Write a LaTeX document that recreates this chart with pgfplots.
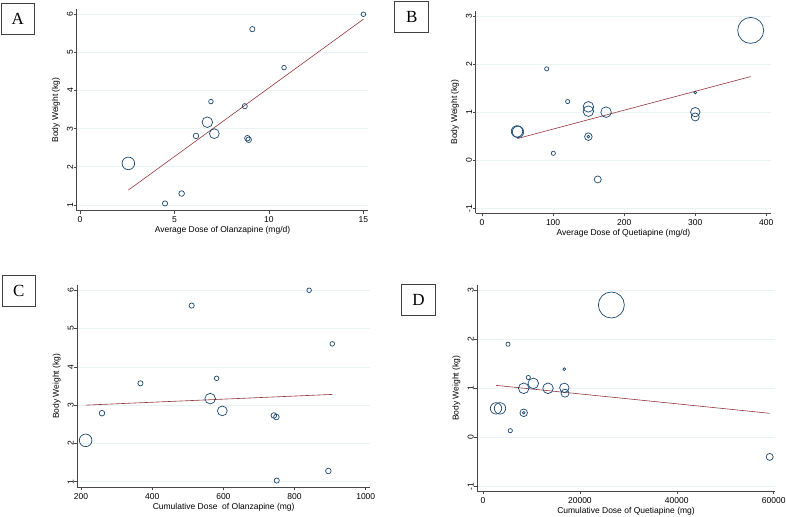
\documentclass[border=0pt]{standalone}
\usepackage{pgfplots}
\pgfplotsset{compat=1.18}
\usepackage{fontspec}
\setmainfont{Liberation Sans}
\newfontfamily\serifL{Liberation Serif}
\definecolor{snavy}{RGB}{26,71,111}
\definecolor{smaroon}{RGB}{144,53,59}
\definecolor{sgrid}{RGB}{234,242,243}
\definecolor{saxis}{RGB}{70,70,70}
\pgfplotsset{
  panel/.style={
    scale only axis,
    clip=false,
    axis lines*=left,
    axis line style={-, draw=saxis, line width=0.6pt},
    tick align=outside,
    major tick length=3pt,
    tick style={draw=saxis, line width=0.6pt},
    ymajorgrids,
    grid style={draw=sgrid, line width=0.7pt},
    /pgf/number format/assume math mode=true,
    /pgf/number format/1000 sep={},
    scaled x ticks=false,
    ticklabel style={font=\fontsize{8.5}{10}\selectfont, text=black, inner sep=0pt},
    yticklabel style={rotate=90, anchor=south},
    xticklabel style={anchor=north},
    xticklabel shift=3pt,
    yticklabel shift=0.5pt,
    label style={font=\fontsize{8.5}{10}\selectfont, inner sep=0pt},
    xlabel style={at={(axis description cs:0.5,0)}, anchor=north, yshift=-15.5pt},
    ylabel style={at={(axis description cs:-0.0566,0.5)}, anchor=south},
  },
  bub/.style={only marks, mark=o, color=snavy, mark size=#1,
    mark options={line width=0.7pt, draw=snavy, fill=none}},
  fitl/.style={smaroon, line width=0.6pt, no marks},
}
\tikzset{letterbox/.style={draw=black!75, line width=0.8pt, minimum width=33.8pt, minimum height=30.7pt, inner sep=0pt, font=\serifL\fontsize{17}{17}\selectfont}}
\begin{document}
\begin{tikzpicture}
\path[use as bounding box] (0,0) rectangle (786pt,516pt);
% Panel A
\begin{axis}[panel, at={(76.7pt,305.3pt)}, anchor=south west,
  width=291.6pt, height=201.4pt,
  xmin=-0.175, xmax=15.26, ymin=0.85, ymax=6.13,
  xtick={0,5,10,15}, ytick={1,2,3,4,5,6},
  xlabel={Average Dose of Olanzapine (mg/d)}, ylabel={Body Weight (kg)}]
\addplot[bub=2.3] coordinates {(15,6.00) (10.8,4.60) (6.93,3.71)};
\addplot[bub=2.6] coordinates {(9.12,5.61) (8.72,3.59) (4.50,1.04)};
\addplot[bub=2.8] coordinates {(6.14,2.81) (8.86,2.75) (8.93,2.71) (5.38,1.30)};
\addplot[bub=5.3] coordinates {(6.74,3.17)};
\addplot[bub=4.9] coordinates {(7.11,2.87)};
\addplot[bub=6.3] coordinates {(2.56,2.09)};
\addplot[fitl] coordinates {(2.56,1.39) (15,5.87)};
\end{axis}
% Panel B
\begin{axis}[panel, at={(475.7pt,302.7pt)}, anchor=south west,
  width=295.6pt, height=202.6pt,
  xmin=-8.9, xmax=407, ymin=-1.104, ymax=3.11,
  xtick={0,100,200,300,400}, ytick={-1,0,1,2,3},
  xlabel={Average Dose of Quetiapine (mg/d)}, ylabel={Body Weight (kg)}]
\addplot[bub=13] coordinates {(378,2.70)};
\addplot[bub=2.1] coordinates {(91,1.90) (120.5,1.22) (100.3,0.144)};
\addplot[bub=5.3] coordinates {(149.6,1.11) (149.6,1.02) (174.5,1.00)};
\addplot[bub=1.4] coordinates {(300,1.41) (149.6,0.49)};
\addplot[bub=4.7] coordinates {(300,1.00)};
\addplot[bub=4.0] coordinates {(300,0.90)};
\addplot[bub=5.7] coordinates {(49.2,0.60) (50.6,0.59)};
\addplot[bub=3.8] coordinates {(149.6,0.49)};
\addplot[bub=3.5] coordinates {(162.8,-0.40)};
\addplot[fitl] coordinates {(49.7,0.45) (378,1.74)};
\end{axis}
% Panel C
\begin{axis}[panel, at={(77.3pt,28.7pt)}, anchor=south west,
  width=292.7pt, height=202pt,
  xmin=189.6, xmax=1012, ymin=0.854, ymax=6.13,
  xtick={200,400,600,800,1000}, ytick={1,2,3,4,5,6},
  xlabel={Cumulative Dose\ \ of Olanzapine (mg)}, ylabel={Body Weight (kg)}]
\addplot[bub=2.3] coordinates {(841,6.00) (906,4.60) (581,3.70)};
\addplot[bub=2.6] coordinates {(511,5.60) (367,3.57) (750,1.03)};
\addplot[bub=2.8] coordinates {(259,2.79) (742,2.73) (749,2.69) (895,1.28)};
\addplot[bub=5.3] coordinates {(563,3.17)};
\addplot[bub=4.9] coordinates {(597,2.85)};
\addplot[bub=6.3] coordinates {(213,2.08)};
\addplot[fitl] coordinates {(213,3.00) (906,3.28)};
\end{axis}
% Panel D
\begin{axis}[panel, at={(477.3pt,24.7pt)}, anchor=south west,
  width=297.4pt, height=206pt,
  xmin=-1176, xmax=60206, ymin=-1.102, ymax=3.102,
  xtick={0,20000,40000,60000}, ytick={-1,0,1,2,3},
  xlabel={Cumulative Dose of Quetiapine (mg)}, ylabel={Body Weight (kg)}]
\addplot[bub=13] coordinates {(26490,2.70)};
\addplot[bub=2.1] coordinates {(5160,1.90) (9350,1.22) (5635,0.135)};
\addplot[bub=5.3] coordinates {(10380,1.10) (8400,1.00) (13416,1.00)};
\addplot[bub=1.4] coordinates {(16780,1.39) (8400,0.50)};
\addplot[bub=4.7] coordinates {(16780,1.01)};
\addplot[bub=4.0] coordinates {(16925,0.90)};
\addplot[bub=5.7] coordinates {(2683,0.59) (3509,0.59)};
\addplot[bub=3.8] coordinates {(8400,0.50)};
\addplot[bub=3.5] coordinates {(59170,-0.40)};
\addplot[fitl] coordinates {(2683,1.06) (59170,0.49)};
\end{axis}
\node[letterbox] at (17.85pt,497.35pt) {A};
\node[letterbox] at (411.7pt,499pt) {B};
\node[letterbox] at (18.85pt,225.2pt) {C};
\node[letterbox] at (418.5pt,216pt) {D};
\end{tikzpicture}
\end{document}
